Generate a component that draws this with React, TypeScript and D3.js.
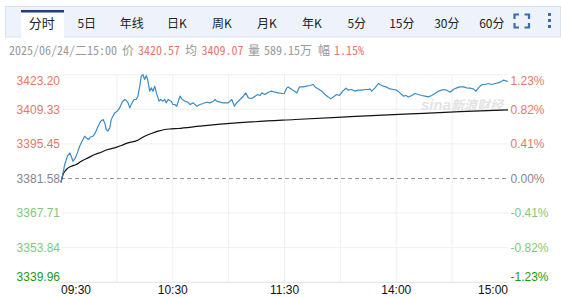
import React from "react";
import * as d3 from "d3";

const W = 561;
const H = 297;

const prevClose = 3381.58;
const priceTicks = [3423.2, 3409.33, 3395.45, 3381.58, 3367.71, 3353.84, 3339.96];
const pctTicks = ["1.23%", "0.82%", "0.41%", "0.00%", "-0.41%", "-0.82%", "-1.23%"];
const timeLabels = ["09:30", "10:30", "11:30", "14:00", "15:00"];
const timeLabelMinutes = [0, 60, 120, 180, 240];
const gridMinutes = [30, 60, 90, 120, 150, 180, 210];
const tabs = ["分时", "5日", "年线", "日K", "周K", "月K", "年K", "5分", "15分", "30分", "60分"];

const priceTimes = [
  0, 2.0, 3.4, 4.8, 5.5, 6.4, 7.7, 8.8, 10.0, 11.3, 12.7, 13.6, 14.9, 15.7, 17.2, 18.4, 19.9, 21.3, 22.6, 23.5,
  24.3, 25.2, 26.2, 27.0, 27.9, 28.8, 30.2, 31.5, 32.8, 34.2, 35.1, 36.0, 36.9, 37.7, 39.2, 40.4, 41.3, 42.3,
  43.1, 44.0, 44.9, 45.8, 46.7, 47.6, 48.5, 49.4, 50.3, 51.2, 52.1, 52.6, 53.5, 54.8, 55.7, 56.5, 57.5, 59.2,
  60.1, 61.1, 62.1, 63.9, 65.1, 66.6, 68.0, 69.3, 71.0, 72.9, 74.6, 76.4, 78.2, 80.0, 81.8, 82.7, 83.6, 85.4,
  87.1, 89.8, 91.7, 93.1, 94.3, 96.1, 97.9, 99.2, 100.6, 102.4, 104.2, 105.6, 106.9, 107.8, 109.5, 111.3, 113.1,
  114.9, 116.7, 118.5, 119.9, 121.2, 122.0, 123.9, 124.7, 126.6, 128.0, 130.1, 131.9, 133.7, 135.5, 136.4,
  138.2, 140.0, 141.7, 143.5, 144.8, 146.2, 148.0, 149.4, 151.3, 153.0, 154.3, 156.1, 157.9, 159.6, 161.5,
  163.2, 165.0, 165.9, 166.8, 168.6, 170.4, 171.3, 173.1, 174.9, 176.6, 178.4, 180.2, 182.0, 182.9, 183.8,
  185.2, 186.5, 188.3, 190.1, 191.8, 193.7, 195.4, 197.2, 199.0, 200.8, 202.6, 204.4, 205.3, 207.1, 208.9,
  210.6, 212.5, 214.2, 216.0, 217.8, 219.6, 221.4, 222.8, 223.7, 225.0, 226.2, 227.7, 229.4, 231.3, 233.0,
  234.8, 236.6, 237.5, 239.3, 240.0,
];
const priceValues = [
  3380.0, 3387.19, 3390.52, 3391.85, 3390.52, 3388.52, 3389.84, 3391.85, 3394.53, 3396.54, 3398.54, 3397.86,
  3397.22, 3398.14, 3398.54, 3399.86, 3402.55, 3404.56, 3405.24, 3403.87, 3401.23, 3400.55, 3401.87, 3405.24,
  3406.56, 3407.88, 3408.57, 3409.89, 3412.17, 3413.26, 3412.86, 3411.89, 3409.89, 3411.25, 3413.26, 3413.26,
  3414.58, 3418.59, 3422.6, 3423.2, 3421.28, 3422.9, 3420.6, 3416.59, 3417.91, 3416.59, 3418.59, 3415.9,
  3413.9, 3412.58, 3413.26, 3412.58, 3413.26, 3411.89, 3413.26, 3412.58, 3411.25, 3411.25, 3410.57, 3414.58,
  3413.26, 3412.58, 3412.18, 3411.25, 3411.89, 3410.57, 3411.25, 3411.65, 3412.18, 3411.89, 3412.58, 3413.26,
  3412.58, 3412.18, 3411.89, 3411.89, 3413.26, 3410.57, 3411.89, 3413.26, 3414.58, 3415.9, 3413.9, 3413.66,
  3414.58, 3415.26, 3414.86, 3415.9, 3415.26, 3416.18, 3416.59, 3416.18, 3415.9, 3415.66, 3415.66, 3417.91,
  3418.31, 3417.27, 3416.99, 3415.9, 3418.31, 3418.31, 3418.59, 3418.87, 3419.27, 3418.31, 3417.51, 3416.59,
  3415.26, 3414.3, 3413.5, 3414.3, 3415.26, 3414.86, 3416.59, 3417.79, 3416.99, 3417.27, 3416.59, 3416.99,
  3416.99, 3417.27, 3417.27, 3417.51, 3416.59, 3417.91, 3419.67, 3419.27, 3418.59, 3418.19, 3417.51, 3417.27,
  3416.99, 3415.9, 3415.26, 3414.58, 3414.86, 3414.3, 3414.86, 3415.66, 3415.26, 3414.86, 3414.58, 3414.3,
  3414.86, 3415.66, 3416.59, 3416.99, 3417.27, 3416.99, 3416.18, 3417.27, 3417.91, 3418.31, 3418.31, 3417.91,
  3417.79, 3417.51, 3416.59, 3417.51, 3418.59, 3419.27, 3419.27, 3419.67, 3419.27, 3419.67, 3419.91, 3420.6,
  3421.0, 3420.6, 3420.57,
];

const avgTimes = [0, 1.1, 2.9, 5.5, 8.2, 10.9, 14.5, 18.1, 21.6, 25.2, 28.8, 32.4, 36.0, 41.3, 44.9, 48.5, 52.1, 55.7, 59.2, 62.8, 74.6, 96.1, 125.6, 155.2, 187.4, 214.2, 240];
const avgValues = [
  3380.0, 3383.18, 3385.19, 3386.51, 3387.19, 3388.52, 3389.84, 3391.2, 3392.13, 3393.21, 3393.85, 3394.81,
  3395.85, 3396.94, 3398.54, 3399.62, 3400.55, 3401.23, 3401.47, 3401.63, 3402.55, 3403.95, 3405.24, 3406.36,
  3407.48, 3408.37, 3409.07,
];

const RED = "#e5786d";
const LGREEN = "#7fc97a";
const DGREEN = "#1a9a1a";
const GRAY = "#888";
const MONO = "'Noto Sans Mono CJK SC', 'Noto Sans CJK SC', 'Liberation Mono', monospace";

export default function App() {
  const x = d3.scaleLinear().domain([0, 240]).range([61, 508]);
  const y = d3.scaleLinear().domain([3339.96, 3423.2]).range([282.3, 74.7]);

  const priceData = priceTimes.map((t, i) => [t, priceValues[i]] as [number, number]);
  const avgData = avgTimes.map((t, i) => [t, avgValues[i]] as [number, number]);
  const line = d3.line<[number, number]>().x((d) => x(d[0])).y((d) => y(d[1]));
  const avgLine = d3
    .line<[number, number]>()
    .x((d) => x(d[0]))
    .y((d) => y(d[1]))
    .curve(d3.curveMonotoneX);

  const tabX = d3.scaleLinear().domain([0, 1]).range([41.8, 86.8]);

  const labelColor = (i: number) => (i < 3 ? RED : i === 3 ? GRAY : i === 6 ? DGREEN : LGREEN);
  const labelY = (v: number, i: number) => {
    const yy = y(v);
    if (i === 0) return yy + 5.5;
    if (i === priceTicks.length - 1) return yy - 6;
    return yy;
  };

  return (
    <svg
      width={W}
      height={H}
      style={{ position: "absolute", left: 0, top: 0, background: "#fff" }}
      fontFamily="Arial, 'Liberation Sans', sans-serif"
    >
      {/* tab bar */}
      <rect x={5.5} y={6.5} width={555} height={30.5} fill="#eef3fb" stroke="#d8e2f0" />
      <rect x={21} y={10} width={43} height={28} fill="#fff" />
      <rect x={21} y={10} width={43} height={2.5} fill="#1e3d78" />
      {tabs.map((t, i) => (
        <text
          key={t}
          x={tabX(i)}
          y={28}
          textAnchor="middle"
          fontSize={i === 0 ? 13 : 12}
          fill="#222"
          fontFamily="'Noto Sans CJK SC', sans-serif"
        >
          {t}
        </text>
      ))}
      {/* fullscreen icon */}
      <g stroke="#3a6db5" strokeWidth={2.2} fill="none">
        <path d="M514.5,19 V14.5 H519" />
        <path d="M524.5,14.5 H529 V19" />
        <path d="M514.5,23 V27.5 H519" />
        <path d="M524.5,27.5 H529 V23" />
      </g>
      <g fill="#3a6db5">
        <rect x={548} y={13} width={3} height={3} />
        <rect x={548} y={19} width={3} height={3} />
        <rect x={548} y={25} width={3} height={3} />
      </g>

      {/* info line */}
      <text y={55} fontSize={12} fontFamily={MONO}>
        <tspan x={9} fill="#999">2025/06/24/二15:00</tspan>
        <tspan x={122} fill="#999">价</tspan>
        <tspan x={138} fill={RED}>3420.57</tspan>
        <tspan x={185} fill="#999">均</tspan>
        <tspan x={201.5} fill={RED}>3409.07</tspan>
        <tspan x={248} fill="#999">量</tspan>
        <tspan x={264} fill="#999">589.15万</tspan>
        <tspan x={318} fill="#999">幅</tspan>
        <tspan x={334} fill={RED}>1.15%</tspan>
      </text>

      {/* grid */}
      {priceTicks.map((v, i) =>
        i === 3 ? null : (
          <line key={"h" + i} x1={61} x2={508} y1={y(v)} y2={y(v)} stroke={i === 6 ? "#e2e2e2" : "#efefef"} />
        )
      )}
      {gridMinutes.map((m) => (
        <line key={"v" + m} x1={x(m)} x2={x(m)} y1={y(3423.2)} y2={y(3339.96)} stroke="#efefef" />
      ))}

      {/* watermark */}
      <g fill="#e3e3e3" fontStyle="italic" fontWeight="bold">
        <text x={421} y={110} fontSize={15} fontFamily="Arial, sans-serif">sina</text>
        <text x={451} y={110} fontSize={13} fontFamily="'Noto Sans CJK SC', sans-serif">新浪财经</text>
      </g>

      {/* prev close */}
      <line
        x1={61}
        x2={508}
        y1={y(prevClose)}
        y2={y(prevClose)}
        stroke="#999"
        strokeDasharray="4,3"
      />

      {/* lines */}
      <path d={avgLine(avgData) || ""} fill="none" stroke="#111" strokeWidth={1.2} />
      <path d={line(priceData) || ""} fill="none" stroke="#3b8cc6" strokeWidth={1.2} strokeLinejoin="round" />

      {/* left labels */}
      {priceTicks.map((v, i) => (
        <text
          key={"l" + i}
          x={60}
          y={labelY(v, i)}
          dy="0.36em"
          textAnchor="end"
          fontSize={12}
          fill={labelColor(i)}
        >
          {v.toFixed(2)}
        </text>
      ))}
      {/* right labels */}
      {pctTicks.map((p, i) => (
        <text key={"r" + i} x={510.5} y={labelY(priceTicks[i], i)} dy="0.36em" fontSize={12} fill={labelColor(i)}>
          {p}
        </text>
      ))}
      {/* time labels */}
      {timeLabels.map((t, i) => (
        <text
          key={t}
          x={x(timeLabelMinutes[i])}
          y={294}
          fontSize={12}
          fill="#111"
          textAnchor={i === 0 ? "start" : i === timeLabels.length - 1 ? "end" : "middle"}
        >
          {t}
        </text>
      ))}
    </svg>
  );
}
